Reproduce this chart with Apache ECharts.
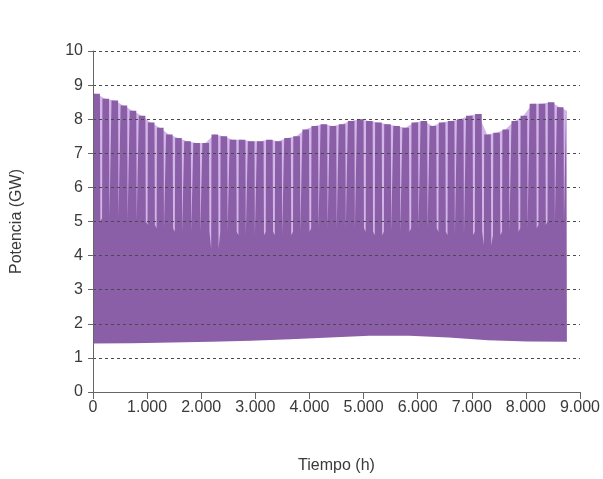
<!DOCTYPE html>
<html>
<head>
<meta charset="utf-8">
<script src="https://cdn.jsdelivr.net/npm/echarts@6/dist/echarts.min.js"></script>
<style>
  html, body { margin: 0; padding: 0; background: #fff; }
  #chart { width: 603px; height: 479px; }
</style>
</head>
<body>
<div id="chart"></div>
<script>
// weekly peak demand (GW), one value per week of the year
let weekPeak = [
    8.75, 8.6, 8.55, 8.4, 8.25, 8.1, 7.9, 7.75, 7.55, 7.45, 7.35, 7.3, 7.3,
    7.55, 7.5, 7.4, 7.4, 7.35, 7.35, 7.4, 7.35, 7.45, 7.5, 7.7, 7.8, 7.85,
    7.8, 7.85, 7.95, 8.0, 7.95, 7.9, 7.85, 7.8, 7.75, 7.9, 7.95, 7.8, 7.9,
    7.95, 8.0, 8.1, 8.15, 7.55, 7.6, 7.7, 7.95, 8.1, 8.45, 8.45, 8.5, 8.35
];
// weekend low at the start of each week (GW)
let weekLow = [
    5.0, 5.1, 5.1, 5.05, 5.0, 5.0, 4.9, 4.8, 4.8, 4.7, 4.7, 4.7, 4.7,
    4.2, 4.7, 4.7, 4.6, 4.6, 4.6, 4.7, 4.6, 4.6, 4.7, 4.7, 4.8, 4.8,
    4.8, 4.8, 4.8, 4.8, 4.7, 4.6, 4.7, 4.7, 4.7, 4.8, 4.8, 4.8, 4.7,
    4.6, 4.6, 4.6, 4.7, 4.3, 4.6, 4.7, 4.7, 4.8, 4.8, 4.9, 5.0, 5.0
];
let lastDayPeak = 8.25;
// night minimum, read at the start of every month and at the end of the year
let lowHours = [0, 730, 1460, 2190, 2920, 3650, 4380, 5110, 5840, 6570, 7300, 8030, 8760];
let lowEdge = [1.42, 1.43, 1.45, 1.47, 1.5, 1.55, 1.6, 1.65, 1.65, 1.6, 1.52, 1.48, 1.47];

let yTicks = [0, 1, 2, 3, 4, 5, 6, 7, 8, 9, 10];
let xTicks = [0, 1000, 2000, 3000, 4000, 5000, 6000, 7000, 8000, 9000];

function upperData() {
    let res = [];
    weekPeak.forEach(function (peak, i) {
        let h0 = i * 168;
        res.push([h0, weekLow[i]]);
        res.push([h0 + 6, peak]);
        res.push([h0 + 128, peak]);
        res.push([h0 + 136, weekLow[i]]);
    });
    res.push([8736, weekLow[weekLow.length - 1]]);
    res.push([8742, lastDayPeak]);
    res.push([8760, lastDayPeak]);
    return res;
}

// weekend hours sit in a paler band under the weekly peaks
function weekendBand() {
    let res = [[0, weekPeak[0]]];
    weekPeak.forEach(function (peak, i) {
        res.push([i * 168 + 60, peak]);
    });
    res.push([8760, lastDayPeak]);
    return res;
}

function formatThousands(v) {
    let s = String(v);
    if (s.length > 3) {
        s = s.slice(0, s.length - 3) + "." + s.slice(-3);
    }
    return s;
}

let textColor = "#3a3a3a";
let font = "Liberation Sans";

let chart = echarts.init(document.getElementById("chart"));
let option = {
    backgroundColor: "#ffffff",
    animation: false,
    grid: {
        left: 93,
        right: 22,
        top: 51,
        bottom: 87,
    },
    xAxis: {
        type: "value",
        min: xTicks[0],
        max: xTicks[xTicks.length - 1],
        interval: 1000,
        z: 5,
        name: "Tiempo (h)",
        nameLocation: "middle",
        nameGap: 66,
        nameTextStyle: {
            color: textColor,
            fontFamily: font,
            fontSize: 16,
        },
        axisLine: {
            lineStyle: { color: "#666", width: 1 }
        },
        axisTick: {
            show: true,
            length: 7,
            lineStyle: { color: "#666" }
        },
        axisLabel: {
            color: textColor,
            fontFamily: font,
            fontSize: 16,
            margin: 8,
            formatter: formatThousands
        },
        splitLine: { show: false },
    },
    yAxis: {
        type: "value",
        min: yTicks[0],
        max: yTicks[yTicks.length - 1],
        interval: 1,
        z: 5,
        name: "Potencia (GW)",
        nameLocation: "middle",
        nameGap: 68,
        nameTextStyle: {
            color: textColor,
            fontFamily: font,
            fontSize: 16,
        },
        axisLine: {
            show: true,
            lineStyle: { color: "#666", width: 1 }
        },
        axisTick: {
            show: true,
            length: 5,
            lineStyle: { color: "#666" }
        },
        axisLabel: {
            color: textColor,
            fontFamily: font,
            fontSize: 16,
            margin: 10,
        },
        splitLine: {
            show: true,
            lineStyle: {
                color: "#4a4a4a",
                type: [3, 3],
                width: 1
            }
        },
    },
    series: [
        {
            name: "fin de semana",
            type: "line",
            data: weekendBand(),
            symbol: "none",
            lineStyle: { width: 0 },
            areaStyle: {
                color: "#d3b6e7",
                opacity: 1
            },
        },
        {
            name: "demanda",
            type: "line",
            data: upperData(),
            symbol: "none",
            lineStyle: { width: 0 },
            areaStyle: {
                color: "#8a5fa8",
                opacity: 1
            },
        },
        {
            name: "minimo",
            type: "line",
            data: lowHours.map((h, i) => [h, lowEdge[i]]),
            symbol: "none",
            lineStyle: { width: 0 },
            areaStyle: {
                color: "#ffffff",
                opacity: 1
            },
        }
    ]
};
chart.setOption(option);
</script>
</body>
</html>
